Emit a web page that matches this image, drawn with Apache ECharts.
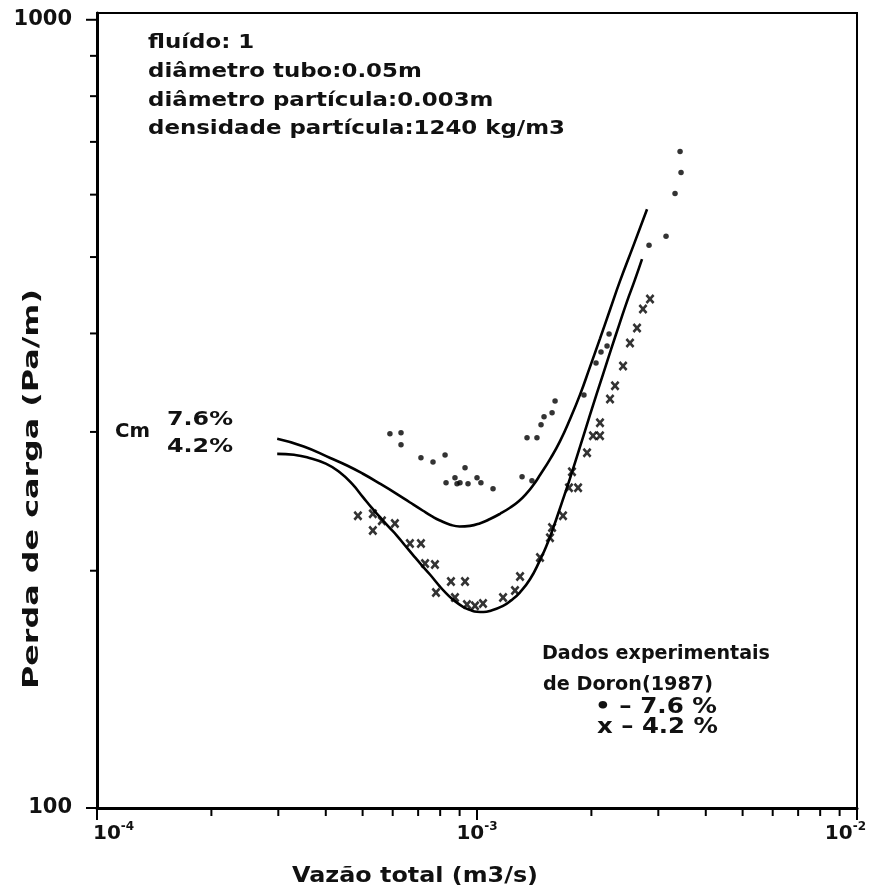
<!DOCTYPE html>
<html>
<head>
<meta charset="utf-8">
<script src="https://cdn.jsdelivr.net/npm/echarts@6/dist/echarts.min.js"></script>
<style>
  html, body { margin: 0; padding: 0; background: #fff; }
  #chart { width: 872px; height: 889px; }
</style>
</head>
<body>
<div id="chart"></div>
<script>
// curvas calculadas (Cm 7.6% e 4.2%)
const curve76 = [
  [2.98e-4, 294], [3.5e-4, 287.5], [4.11e-4, 278], [4.55e-4, 272], [5.01e-4, 265.5],
  [5.55e-4, 258], [6.16e-4, 250.2], [6.65e-4, 244.3], [7.21e-4, 238.3], [7.6e-4, 234.6],
  [7.99e-4, 231.6], [8.5e-4, 228.8], [9.0e-4, 227.6], [9.58e-4, 228], [1.02e-3, 229.8],
  [1.082e-3, 232.6], [1.15e-3, 236.2], [1.221e-3, 240.4], [1.29e-3, 245.2], [1.354e-3, 251],
  [1.41e-3, 257.3], [1.465e-3, 264.5], [1.56e-3, 277.5], [1.654e-3, 292], [1.76e-3, 312],
  [1.867e-3, 334.5], [1.98e-3, 362], [2.107e-3, 394], [2.24e-3, 429], [2.378e-3, 466],
  [2.58e-3, 517], [2.802e-3, 575]
];
const curve42 = [
  [2.98e-4, 281.4], [3.3e-4, 280.6], [3.57e-4, 278.6], [4.0e-4, 273.5], [4.36e-4, 266.5],
  [4.7e-4, 257.5], [5.01e-4, 248], [5.28e-4, 240.5], [5.55e-4, 234], [5.85e-4, 227.5],
  [6.16e-4, 221.5], [6.45e-4, 215.6], [6.78e-4, 209.5], [7.15e-4, 203.3], [7.52e-4, 197.8],
  [8.0e-4, 190.8], [8.3e-4, 187.2], [8.65e-4, 183.8], [9.19e-4, 180], [9.6e-4, 178.3],
  [1.0e-3, 177.4], [1.04e-3, 177.3], [1.08e-3, 177.8], [1.171e-3, 180.5], [1.23e-3, 183.4],
  [1.298e-3, 187.8], [1.38e-3, 195.2], [1.465e-3, 206.3], [1.52e-3, 214.5], [1.585e-3, 226.2],
  [1.67e-3, 243.5], [1.757e-3, 262], [1.87e-3, 288], [1.984e-3, 315.5], [2.146e-3, 355],
  [2.262e-3, 384], [2.37e-3, 411], [2.481e-3, 439], [2.6e-3, 467], [2.718e-3, 497]
];

// dados experimentais de Doron (1987)
const doron76 = [
  [5.90e-4, 298.3], [6.31e-4, 299.2], [6.31e-4, 288.9], [7.12e-4, 278.1], [7.66e-4, 274.8],
  [8.24e-4, 280.5], [9.30e-4, 270.1], [8.29e-4, 258.6], [8.75e-4, 262.4], [8.86e-4, 257.8],
  [9.02e-4, 258.6], [9.47e-4, 257.8], [1.0e-3, 262.4], [1.024e-3, 258.6], [1.102e-3, 254.1],
  [1.314e-3, 263.2], [1.395e-3, 260.1], [1.354e-3, 294.9], [1.438e-3, 294.9], [1.474e-3, 306.3],
  [1.501e-3, 313.5], [1.576e-3, 317.2], [1.605e-3, 328.4], [1.912e-3, 334.2], [2.057e-3, 367],
  [2.12e-3, 379], [2.199e-3, 385.6], [2.226e-3, 399.4], [2.836e-3, 517.5], [3.144e-3, 531.3],
  [3.32e-3, 602.2], [3.443e-3, 640.3], [3.423e-3, 680.7]
];
const doron42 = [
  [4.86e-4, 234.9], [5.32e-4, 236.3], [5.62e-4, 231.5], [5.32e-4, 224.9], [6.08e-4, 229.5],
  [6.66e-4, 216.5], [7.12e-4, 216.5], [7.30e-4, 204.2], [7.75e-4, 203.6], [8.54e-4, 193.8],
  [9.30e-4, 193.8], [7.80e-4, 187.7], [8.75e-4, 184.9], [9.41e-4, 181.2], [9.88e-4, 180.5],
  [1.037e-3, 181.7], [1.171e-3, 184.9], [1.259e-3, 188.8], [1.298e-3, 196.7], [1.465e-3, 207.9],
  [1.556e-3, 220.3], [1.576e-3, 226.9], [1.684e-3, 234.9], [1.746e-3, 254.8], [1.845e-3, 254.8],
  [1.778e-3, 267.1], [1.948e-3, 282.2], [2.02e-3, 296.6], [2.107e-3, 296.6], [2.107e-3, 308.1],
  [2.239e-3, 330.4], [2.308e-3, 343.2], [2.423e-3, 363.8], [2.527e-3, 389], [2.637e-3, 406.4],
  [2.734e-3, 429.5], [2.853e-3, 442.2]
];

// marcas dos eixos
const xMajorTicks = [1e-4, 1e-3, 1e-2];
const xMinorTicks = [2e-4, 3e-4, 4e-4, 5e-4, 6e-4, 7e-4, 8e-4, 9e-4,
                     2e-3, 3e-3, 4e-3, 5e-3, 6e-3, 7e-3, 8e-3, 9e-3];
const yMajorTicks = [100, 1000];
const yMinorTicks = [200, 300, 400, 500, 600, 700, 800, 900];

const FONT = 'DejaVu Sans';
const INK = '#111';

const tickData = [];
xMajorTicks.forEach(v => tickData.push([v, 100, 1]));
xMinorTicks.forEach(v => tickData.push([v, 100, 0]));
yMajorTicks.forEach(v => tickData.push([1e-4, v, 3]));
yMinorTicks.forEach(v => tickData.push([1e-4, v, 2]));

const superRich = {
  b: { fontFamily: FONT, fontSize: 20, fontWeight: 'bold', fill: INK, color: INK },
  s: { fontFamily: FONT, fontSize: 12, fontWeight: 'bold', fill: INK, color: INK, padding: [0, 0, 14, 0] }
};

function renderTick(params, api) {
  const kind = api.value(2);
  const p = api.coord([api.value(0), api.value(1)]);
  const st = { stroke: '#000', lineWidth: 2 };
  if (kind === 0) return { type: 'line', shape: { x1: p[0], y1: p[1], x2: p[0], y2: p[1] + 8 }, style: st };
  if (kind === 2) return { type: 'line', shape: { x1: p[0] - 7, y1: p[1], x2: p[0], y2: p[1] }, style: st };
  if (kind === 3) return { type: 'line', shape: { x1: p[0] - 11, y1: p[1], x2: p[0], y2: p[1] }, style: st };
  // decada no eixo x: marca + rotulo 10^n
  const e = Math.round(Math.log10(api.value(0)));
  const align = e === -4 ? 'left' : (e === -2 ? 'right' : 'center');
  const lx = e === -4 ? p[0] - 4 : (e === -2 ? p[0] + 9 : p[0]);
  return {
    type: 'group',
    children: [
      { type: 'line', shape: { x1: p[0], y1: p[1], x2: p[0], y2: p[1] + 12 }, style: st },
      { type: 'text', x: lx, y: p[1] + 26,
        style: { text: '{b|10}{s|' + e + '}', rich: superRich, align: align, verticalAlign: 'middle' } }
    ]
  };
}

// texto esticado para imitar o letreiro espaçado do original
const measureCtx = document.createElement('canvas').getContext('2d');
function label(text, x, y, size, width, extra) {
  const font = 'bold ' + size + 'px "' + FONT + '"';
  measureCtx.font = font;
  const sx = width / measureCtx.measureText(text).width;
  return Object.assign({
    type: 'text', x: x, y: y, scaleX: sx,
    style: { text: text, font: font, fill: INK, textAlign: 'left', textVerticalAlign: 'middle' }
  }, extra || {});
}

const chart = echarts.init(document.getElementById('chart'));

const isDecade = v => Math.abs(Math.log10(v) - Math.round(Math.log10(v))) < 1e-6;

const head = label('densidade partícula:1240 kg/m3', 148, 129, 20, 417);
const headScale = head.scaleX;
function headLine(text, y) {
  const l = label(text, 148, y, 20, 100);
  l.scaleX = headScale;
  return l;
}

chart.setOption({
  animation: false,
  backgroundColor: '#fff',
  grid: {
    left: 97, right: 15, top: 13, bottom: 81,
    show: true, borderColor: '#000', borderWidth: 2,
    outerBoundsMode: 'none'
  },
  xAxis: {
    type: 'log', logBase: 10, min: 1e-4, max: 1e-2, interval: 1,
    axisLine: { lineStyle: { color: '#000', width: 3 } },
    axisTick: { show: false },
    splitLine: { show: false },
    axisLabel: { show: false }
  },
  yAxis: {
    type: 'log', logBase: 10, min: 100, max: 1020, interval: 1,
    axisLine: { lineStyle: { color: '#000', width: 3 } },
    axisTick: { show: false },
    splitLine: { show: false },
    axisLabel: {
      margin: 25, fontFamily: FONT, fontSize: 21, fontWeight: 'bold', color: INK,
      formatter: v => isDecade(v) ? String(Math.round(v)) : ''
    }
  },
  series: [
    {
      type: 'line', data: curve76, smooth: 0.5, showSymbol: false, silent: true,
      lineStyle: { color: '#000', width: 2.6 }
    },
    {
      type: 'line', data: curve42, smooth: 0.5, showSymbol: false, silent: true,
      lineStyle: { color: '#000', width: 2.6 }
    },
    {
      type: 'scatter', data: doron76, symbol: 'circle', symbolSize: 5.5, silent: true,
      itemStyle: { color: '#000' }
    },
    {
      type: 'scatter', data: doron42, silent: true,
      symbol: 'path://M0,2L2,0L5,3L8,0L10,2L7,5L10,8L8,10L5,7L2,10L0,8L3,5Z',
      symbolSize: [9, 10], itemStyle: { color: '#000' }
    },
    {
      type: 'custom', data: tickData, renderItem: renderTick, clip: false, silent: true,
      encode: { x: 0, y: 1 }, z: 5
    }
  ],
  graphic: [
    headLine('fluído: 1', 43),
    headLine('diâmetro tubo:0.05m', 72),
    headLine('diâmetro partícula:0.003m', 101),
    head,
    label('Cm', 115, 432, 19, 35),
    label('7.6%', 167, 420, 20, 66),
    label('4.2%', 167, 447, 20, 66),
    label('Dados experimentais', 542, 654, 19, 228),
    label('de Doron(1987)', 543, 685, 19, 170),
    label('• – 7.6 %', 595, 708, 21, 122),
    label('x – 4.2 %', 597, 728, 21, 121),
    label('Vazão total (m3/s)', 292, 877, 21, 246),
    label('Perda de carga (Pa/m)', 33, 689, 21, 400, { rotation: Math.PI / 2 })
  ]
});
</script>
</body>
</html>
